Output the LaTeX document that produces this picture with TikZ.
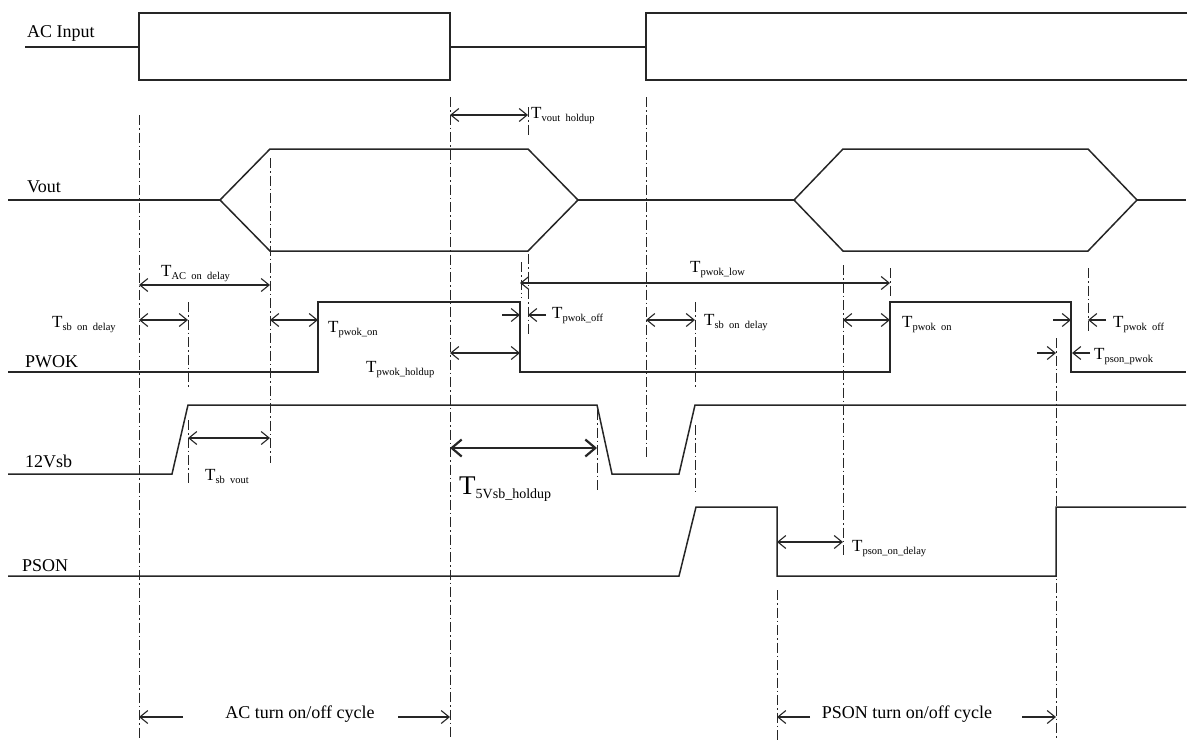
\documentclass[tikz,border=0pt]{standalone}
\usepackage{fontspec}
\setmainfont{Liberation Serif}
\usepackage{tikz}
\usetikzlibrary{arrows.meta}

\newcommand{\tsub}[1]{T\raisebox{-0.45ex}{\fontsize{10.5}{10.5}\selectfont #1}}
\newcommand{\tbig}[1]{T\raisebox{-0.4ex}{\fontsize{14}{14}\selectfont #1}}

\begin{document}
\begin{tikzpicture}[x=1pt,y=-1pt,
    sig/.style={line width=1.5pt,draw=black!85},
    guide/.style={line width=1pt,draw=black!85,
      dash pattern=on 10pt off 3pt on 1.5pt off 3pt},
    dim/.style={{Straight Barb[length=8pt,width=13pt]}-{Straight Barb[length=8pt,width=13pt]},
      line width=1.1pt,draw=black!85},
    tip/.style={-{Straight Barb[length=8pt,width=13pt]},line width=1.1pt,draw=black!85},
    sname/.style={font=\fontsize{18}{20}\selectfont,anchor=base west,inner sep=0pt},
    tlab/.style={font=\fontsize{17}{19}\selectfont,anchor=base west,inner sep=0pt}
  ]
  \useasboundingbox (0,0) rectangle (1193,742);

  % signal names
  \node[sname] (acin) at (27,37) {AC Input};
  \node[sname] (vout) at (27,192) {Vout};
  \node[sname] (pwok) at (25,367) {PWOK};
  \node[sname] (vsb) at (25,467) {12Vsb};
  \node[sname] (pson) at (22,571) {PSON};

  % waveforms
  \draw[sig] (25,47) -- (139,47);
  \draw[sig] (139,13) rectangle (450,80);
  \draw[sig] (450,47) -- (646,47);
  \draw[sig] (1187,13) -- (646,13) -- (646,80) -- (1187,80);

  \draw[sig] (8,200) -- (220,200) (578,200) -- (794,200) (1137,200) -- (1186,200);
  \draw[sig] (220,200) -- (270,149) -- (528,149) -- (578,200) -- (528,251) -- (270,251) -- cycle;
  \draw[sig] (794,200) -- (843,149) -- (1088,149) -- (1137,200) -- (1088,251) -- (843,251) -- cycle;

  \draw[sig] (8,372) -- (318,372) -- (318,302) -- (520,302) -- (520,372) -- (890,372)
    -- (890,302) -- (1071,302) -- (1071,372) -- (1186,372);
  \draw[sig] (8,474) -- (172,474) -- (188,405) -- (597,405) -- (612,474) -- (679,474)
    -- (695,405) -- (1186,405);
  \draw[sig] (8,576) -- (679,576) -- (696,507) -- (777,507) -- (777,576) -- (1056,576)
    -- (1056,507) -- (1186,507);

  % guide lines
  \foreach \x/\ya/\yb in {139/115/740, 450/97/740, 646/97/457, 270/158/463,
      528/107/137, 528/254/335, 521/262/298, 188/302/388, 188/420/485,
      695/302/388, 695/425/495, 597/410/493, 843/265/555, 890/268/297,
      1088/268/332, 1056/338/740, 777/590/740}
    \draw[guide] (\x,\ya) -- (\x,\yb);

  % timing arrows
  \draw[dim] (450,115) -- (528,115);
  \draw[dim] (139,285) -- (270,285);
  \draw[dim] (139,320) -- (188,320);
  \draw[dim] (270,320) -- (318,320);
  \draw[dim] (450,353) -- (520,353);
  \draw[tip] (502,315) -- (520,315);
  \draw[tip] (546,315) -- (528,315);
  \draw[dim] (520,283) -- (890,283);
  \draw[dim] (646,320) -- (695,320);
  \draw[dim] (843,320) -- (890,320);
  \draw[tip] (1053,320) -- (1071,320);
  \draw[tip] (1106,320) -- (1088,320);
  \draw[tip] (1037,353) -- (1056,353);
  \draw[tip] (1090,353) -- (1072,353);
  \draw[dim] (188,438) -- (270,438);
  \draw[{Straight Barb[length=10pt,width=17pt]}-{Straight Barb[length=10pt,width=17pt]},
    line width=2.2pt,draw=black!85] (450,448) -- (597,448);
  \draw[dim] (777,542) -- (843,542);
  \draw[tip] (183,717) -- (139,717);
  \draw[tip] (398,717) -- (450,717);
  \draw[tip] (810,717) -- (777,717);
  \draw[tip] (1022,717) -- (1056,717);

  % timing labels
  \node[tlab] (tvouthold) at (531,118) {\tsub{vout\ \ holdup}};
  \node[tlab] (tacdelay) at (161,276) {\tsub{AC\ \ on\ \ delay}};
  \node[tlab] (tsbdelay) at (52,327) {\tsub{sb\ \ on\ \ delay}};
  \node[tlab] (tpwokon) at (328,332) {\tsub{pwok\_on}};
  \node[tlab] (tpwokhold) at (366,372) {\tsub{pwok\_holdup}};
  \node[tlab] (tpwokoff) at (552,318) {\tsub{pwok\_off}};
  \node[tlab] (tpwoklow) at (690,272) {\tsub{pwok\_low}};
  \node[tlab] (tsbdelayb) at (704,325) {\tsub{sb\ \ on\ \ delay}};
  \node[tlab] (tpwokonb) at (902,327) {\tsub{pwok\ \ on}};
  \node[tlab] (tpwokoffb) at (1113,327) {\tsub{pwok\ \ off}};
  \node[tlab] (tpsonpwok) at (1094,359) {\tsub{pson\_pwok}};
  \node[tlab] (tsbvout) at (205,480) {\tsub{sb\ \ vout}};
  \node[tlab,font=\fontsize{27}{29}\selectfont] (t5vsb) at (459,494) {\tbig{5Vsb\_holdup}};
  \node[tlab] (tpsondelay) at (852,551) {\tsub{pson\_on\_delay}};

  \node[sname,anchor=base] (accycle) at (300,718) {AC turn on/off cycle};
  \node[sname,anchor=base] (psoncycle) at (907,718) {PSON turn on/off cycle};
\end{tikzpicture}
\end{document}
